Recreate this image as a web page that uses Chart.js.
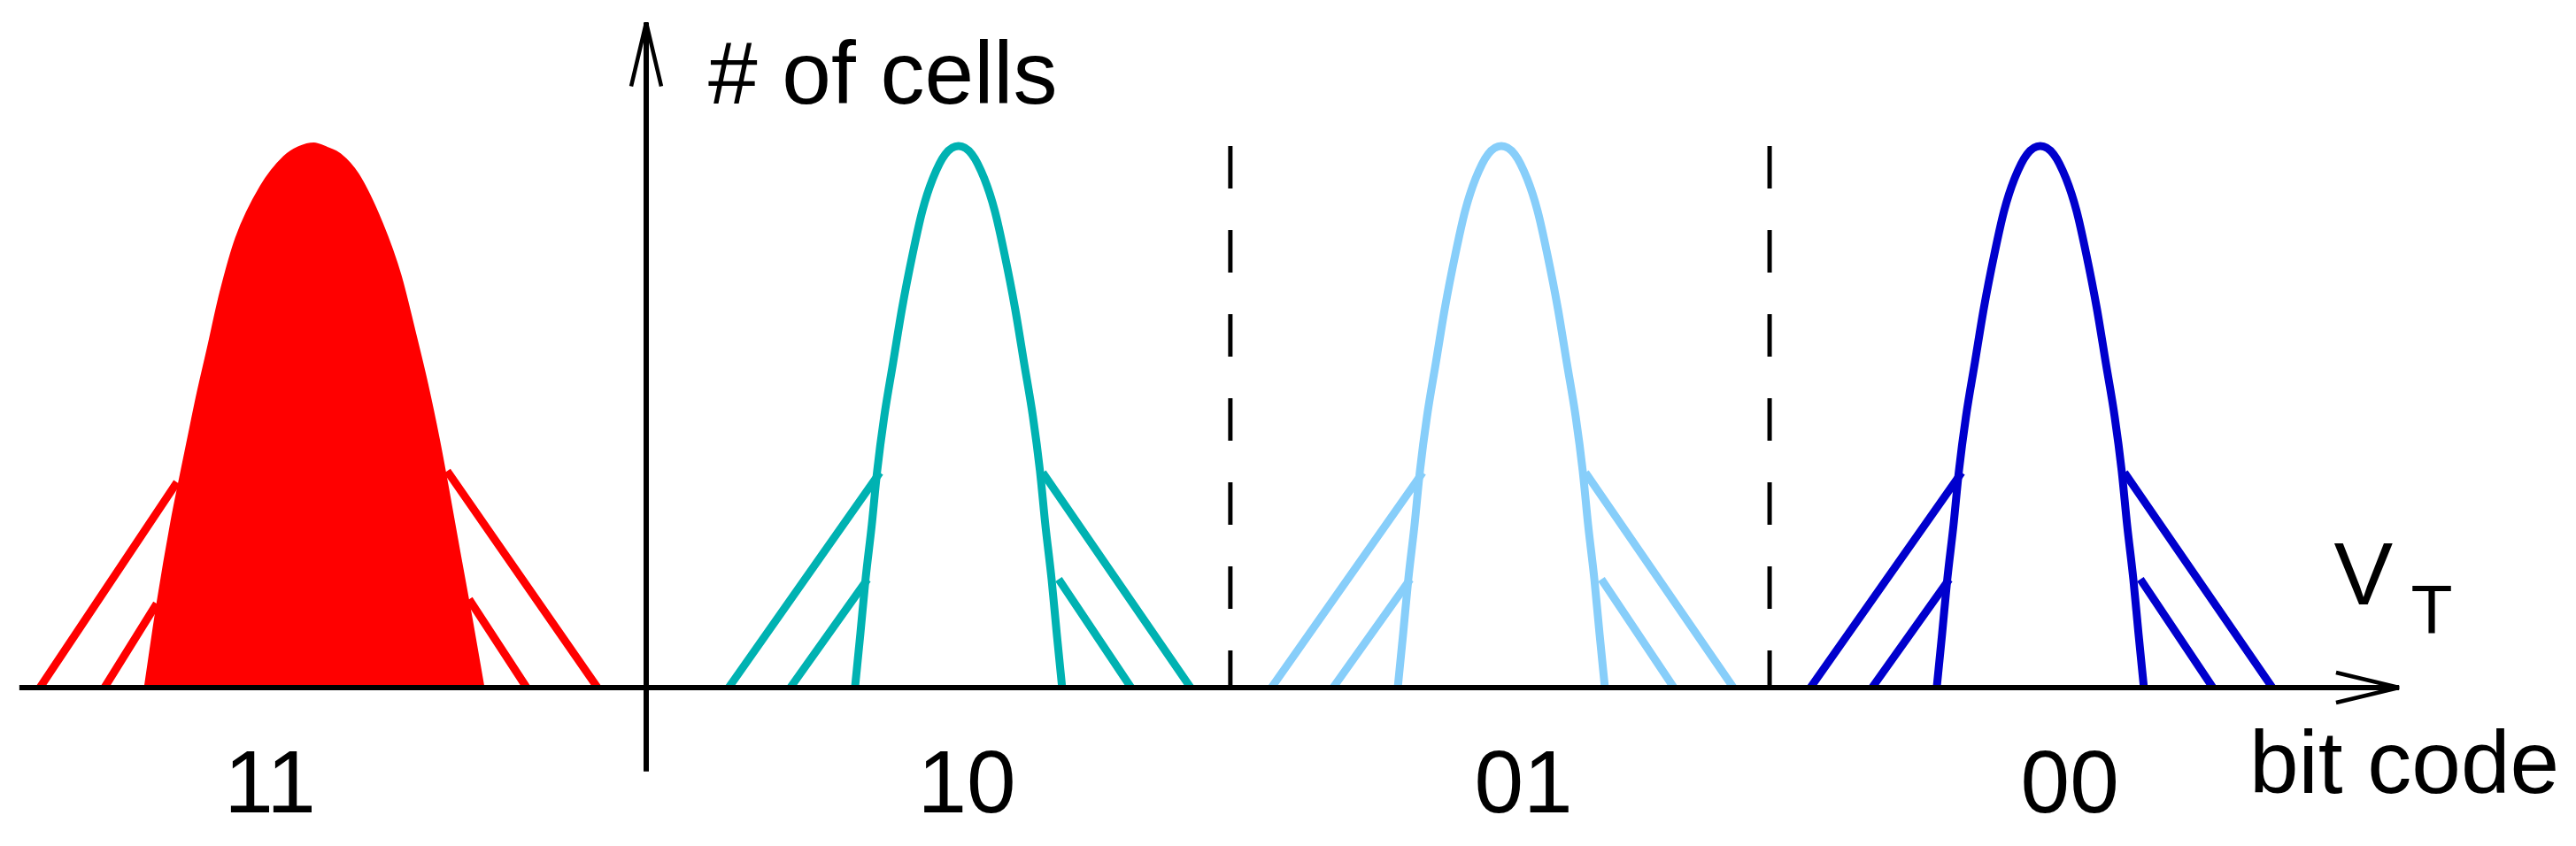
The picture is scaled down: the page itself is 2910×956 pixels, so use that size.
<!DOCTYPE html>
<html lang="en">
<head>
<meta charset="utf-8">
<title>VT distribution of MLC cells</title>
<style>
  html, body { margin: 0; padding: 0; background: #fff; }
  #wrap { position: relative; width: 2910px; height: 956px; }
</style>
</head>
<body>
<div id="wrap"><canvas id="myChart" width="2910" height="956"></canvas></div>

<script src="https://cdn.jsdelivr.net/npm/chart.js"></script>
<script>
// threshold voltage (arbitrary V units) and normalised number of cells
const curveH = [0, 0.1, 0.2, 0.3, 0.4, 0.5, 0.6, 0.7, 0.8, 0.88, 0.94, 0.985, 1.0,
                0.985, 0.94, 0.88, 0.8, 0.7, 0.6, 0.5, 0.4, 0.3, 0.2, 0.1, 0];
const curve10 = [0.772, 0.792, 0.811, 0.834, 0.854, 0.880, 0.913, 0.946, 0.985, 1.021, 1.060, 1.106, 1.155,
                 1.204, 1.250, 1.289, 1.325, 1.364, 1.397, 1.430, 1.456, 1.476, 1.499, 1.518, 1.538];
const curve01 = [2.779, 2.799, 2.818, 2.841, 2.861, 2.887, 2.920, 2.953, 2.992, 3.028, 3.067, 3.113, 3.162,
                 3.211, 3.257, 3.296, 3.332, 3.371, 3.404, 3.437, 3.463, 3.483, 3.506, 3.525, 3.545];
const curve00 = [4.772, 4.792, 4.811, 4.834, 4.854, 4.880, 4.913, 4.946, 4.985, 5.021, 5.060, 5.106, 5.155,
                 5.204, 5.250, 5.289, 5.325, 5.364, 5.397, 5.430, 5.456, 5.476, 5.499, 5.518, 5.538];

// erased state (11), wider and filled
const curve11X = [-1.854, -1.808, -1.756, -1.727, -1.697, -1.661, -1.622, -1.576, -1.517, -1.425, -1.340, -1.285, -1.229,
                  -1.180, -1.131, -1.065, -0.977, -0.908, -0.856, -0.810, -0.767, -0.735, -0.692, -0.646, -0.601];
const curve11H = [0, 0.155, 0.307, 0.38, 0.453, 0.54, 0.625, 0.727, 0.83, 0.926, 0.98, 0.998, 1.005,
                  0.997, 0.985, 0.948, 0.858, 0.761, 0.658, 0.562, 0.46, 0.375, 0.255, 0.129, 0];

// tail segments, pairs of (start, end)
const tailH = [0, 0.397, 0, 0.2, 0.397, 0, 0.2, 0];
const tail10 = [0.305, 0.864, 0.533, 0.818, 1.466, 2.013, 1.525, 1.793];
const tail01 = [2.312, 2.871, 2.540, 2.825, 3.473, 4.020, 3.532, 3.800];
const tail00 = [4.305, 4.864, 4.533, 4.818, 5.466, 6.013, 5.525, 5.793];
const tail11X = [-2.242, -1.735, -2.003, -1.810, -0.736, -0.180, -0.655, -0.442];
const tail11H = [0, 0.379, 0, 0.155, 0.4, 0, 0.163, 0];

// read reference levels between states
const readLevels = [2.160, 4.154];
const levelTop = 1.0;

// bit code labels
const codeLabels = ['11', '10', '01', '00'];
const codeX = [-1.391, 1.185, 3.244, 5.264];
const codeY = -0.230;

const xAxisEnd = [-2.318, 6.481];
const yAxisEnd = [-0.155, 1.228];

function curvePoints(xs, hs) {
  return xs.map((x, i) => ({ x: x, y: hs[i] }));
}

function tailPoints(xs, hs) {
  const pts = [];
  for (let i = 0; i < xs.length; i += 2) {
    pts.push({ x: xs[i], y: hs[i] });
    pts.push({ x: xs[i + 1], y: hs[i + 1] });
    pts.push({ x: xs[i + 1], y: null });
  }
  return pts;
}

const lineW = 9;
function lineSet(data, color, extra) {
  return Object.assign({
    data: data,
    borderColor: color,
    borderWidth: lineW,
    pointRadius: 0,
    fill: false,
    tension: 0,
    spanGaps: false,
    borderCapStyle: 'butt',
    borderJoinStyle: 'round'
  }, extra || {});
}

const smooth = { cubicInterpolationMode: 'monotone' };
const red = '#ff0000', teal = '#00b2b2', sky = '#87cefa', blue = '#0000cd';

const datasets = [
  lineSet(curvePoints(curve11X, curve11H), red, Object.assign({ borderWidth: 2, fill: 'origin', backgroundColor: red }, smooth)),
  lineSet(tailPoints(tail11X, tail11H), red),
  lineSet(curvePoints(curve10, curveH), teal, smooth),
  lineSet(tailPoints(tail10, tailH), teal),
  lineSet(curvePoints(curve01, curveH), sky, smooth),
  lineSet(tailPoints(tail01, tailH), sky),
  lineSet(curvePoints(curve00, curveH), blue, smooth),
  lineSet(tailPoints(tail00, tailH), blue)
];
readLevels.forEach(v => {
  datasets.push(lineSet([{ x: v, y: levelTop }, { x: v, y: 0 }], '#000', { borderWidth: 5, borderDash: [48, 47] }));
});

const FONT = '"Liberation Sans", Arial, Helvetica, sans-serif';

const axesPlugin = {
  id: 'sketchAxes',
  afterDatasetsDraw(chart) {
    const ctx = chart.ctx;
    const xs = chart.scales.x, ys = chart.scales.y;
    const px = v => xs.getPixelForValue(v);
    const py = v => ys.getPixelForValue(v);
    ctx.save();
    ctx.strokeStyle = '#000';
    ctx.lineCap = 'butt';
    ctx.lineJoin = 'bevel';

    // axes
    ctx.lineWidth = 6;
    ctx.beginPath();
    ctx.moveTo(px(xAxisEnd[0]), py(0));
    ctx.lineTo(px(xAxisEnd[1]), py(0));
    ctx.moveTo(px(0), py(yAxisEnd[0]));
    ctx.lineTo(px(0), py(yAxisEnd[1]));
    ctx.stroke();

    // open arrow heads
    ctx.lineWidth = 4.5;
    const tx = px(xAxisEnd[1]), ty = py(0);
    ctx.beginPath();
    ctx.moveTo(tx - 71, ty - 17); ctx.lineTo(tx, ty); ctx.lineTo(tx - 71, ty + 17);
    ctx.stroke();
    const ux = px(0), uy = py(yAxisEnd[1]);
    ctx.beginPath();
    ctx.moveTo(ux - 17, uy + 72); ctx.lineTo(ux, uy); ctx.lineTo(ux + 17, uy + 72);
    ctx.stroke();

    // texts
    ctx.fillStyle = '#000';
    ctx.textBaseline = 'alphabetic';
    ctx.font = '100px ' + FONT;
    ctx.textAlign = 'left';
    ctx.fillText('# of cells', px(0.229), py(1.078));
    ctx.textAlign = 'center';
    codeLabels.forEach((t, i) => ctx.fillText(t, px(codeX[i]), py(codeY)));
    ctx.fillText('V', px(6.350), py(0.154));
    ctx.textAlign = 'right';
    ctx.fillText('bit code', px(7.074), py(-0.194));
    ctx.textAlign = 'center';
    ctx.font = '77px ' + FONT;
    ctx.fillText('T', px(6.602), py(0.0997));
    ctx.restore();
  }
};

new Chart(document.getElementById('myChart'), {
  type: 'line',
  data: { datasets: datasets },
  options: {
    responsive: false,
    devicePixelRatio: 1,
    animation: false,
    events: [],
    layout: { padding: 0 },
    plugins: { legend: { display: false }, tooltip: { enabled: false } },
    scales: {
      x: { type: 'linear', display: false, min: -2.3895, max: 7.1358 },
      y: { type: 'linear', display: false, min: -0.2925, max: 1.2696 }
    }
  },
  plugins: [axesPlugin]
});
</script>
</body>
</html>
